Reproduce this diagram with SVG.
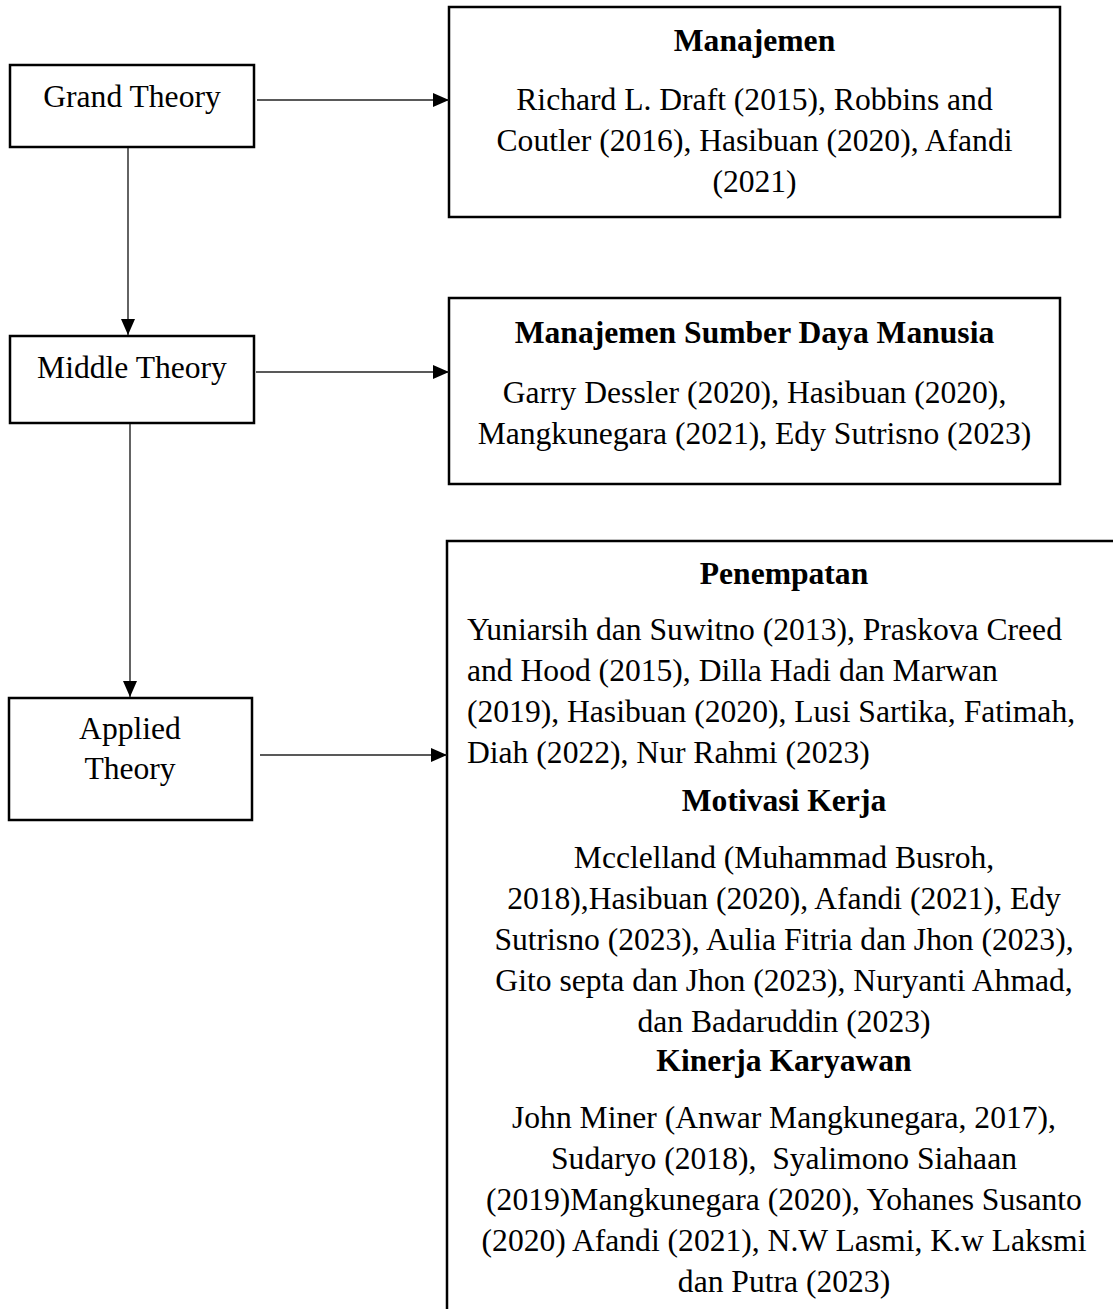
<svg xmlns="http://www.w3.org/2000/svg" width="1113" height="1309" viewBox="0 0 1113 1309">
<style>
.box{fill:#fff;stroke:#000;stroke-width:2.5}
.t{font-family:"Liberation Serif","Times New Roman",serif;font-size:31.6px;fill:#000}
.c{text-anchor:middle}
.b{font-weight:bold}
.conn{stroke:#222;stroke-width:1.4;fill:none}
</style>
<defs>
<marker id="ah" markerWidth="16" markerHeight="14" refX="16" refY="7" orient="auto" markerUnits="userSpaceOnUse">
<path d="M0,0 L16,7 L0,14 z" fill="#000"/>
</marker>
</defs>
<rect width="1113" height="1309" fill="#fff"/>

<g id="grand">
<rect class="box" x="10" y="65" width="244" height="82"/>
<text class="t c" x="132" y="107">Grand Theory</text>
</g>

<g id="middle">
<rect class="box" x="10" y="336" width="244" height="87"/>
<text class="t c" x="132" y="378">Middle Theory</text>
</g>

<g id="applied">
<rect class="box" x="9" y="698" width="243" height="122"/>
<text class="t c" x="130" y="739">Applied</text>
<text class="t c" x="130" y="779">Theory</text>
</g>

<g id="manajemen">
<rect class="box" x="449" y="7" width="611" height="210"/>
<text class="t c b" x="754.5" y="51">Manajemen</text>
<text class="t c" x="754.5" y="110">Richard L. Draft (2015), Robbins and</text>
<text class="t c" x="754.5" y="151">Coutler (2016), Hasibuan (2020), Afandi</text>
<text class="t c" x="754.5" y="192">(2021)</text>
</g>

<g id="msdm">
<rect class="box" x="449" y="298" width="611" height="186"/>
<text class="t c b" x="754.5" y="343">Manajemen Sumber Daya Manusia</text>
<text class="t c" x="754.5" y="403">Garry Dessler (2020), Hasibuan (2020),</text>
<text class="t c" x="754.5" y="444">Mangkunegara (2021), Edy Sutrisno (2023)</text>
</g>

<g id="applied-detail">
<path d="M1113,541 H447 V1309" fill="none" stroke="#000" stroke-width="2.5"/>
<text class="t c b" x="784" y="584">Penempatan</text>
<text class="t" x="467" y="640">Yuniarsih dan Suwitno (2013), Praskova Creed</text>
<text class="t" x="467" y="681">and Hood (2015), Dilla Hadi dan Marwan</text>
<text class="t" x="467" y="722">(2019), Hasibuan (2020), Lusi Sartika, Fatimah,</text>
<text class="t" x="467" y="763">Diah (2022), Nur Rahmi (2023)</text>
<text class="t c b" x="784" y="811">Motivasi Kerja</text>
<text class="t c" x="784" y="868">Mcclelland (Muhammad Busroh,</text>
<text class="t c" x="784" y="909">2018),Hasibuan (2020), Afandi (2021), Edy</text>
<text class="t c" x="784" y="950">Sutrisno (2023), Aulia Fitria dan Jhon (2023),</text>
<text class="t c" x="784" y="991">Gito septa dan Jhon (2023), Nuryanti Ahmad,</text>
<text class="t c" x="784" y="1032">dan Badaruddin (2023)</text>
<text class="t c b" x="784" y="1071">Kinerja Karyawan</text>
<text class="t c" x="784" y="1128">John Miner (Anwar Mangkunegara, 2017),</text>
<text class="t c" x="784" y="1169" style="white-space:pre">Sudaryo (2018),  Syalimono Siahaan</text>
<text class="t c" x="784" y="1210">(2019)Mangkunegara (2020), Yohanes Susanto</text>
<text class="t c" x="784" y="1251">(2020) Afandi (2021), N.W Lasmi, K.w Laksmi</text>
<text class="t c" x="784" y="1292">dan Putra (2023)</text>
</g>

<g id="connectors">
<line class="conn" x1="257" y1="100" x2="449" y2="100" marker-end="url(#ah)"/>
<line class="conn" x1="128" y1="148" x2="128" y2="335" marker-end="url(#ah)"/>
<line class="conn" x1="256" y1="372" x2="449" y2="372" marker-end="url(#ah)"/>
<line class="conn" x1="130" y1="424" x2="130" y2="697" marker-end="url(#ah)"/>
<line class="conn" x1="260" y1="755" x2="447" y2="755" marker-end="url(#ah)"/>
</g>
</svg>
